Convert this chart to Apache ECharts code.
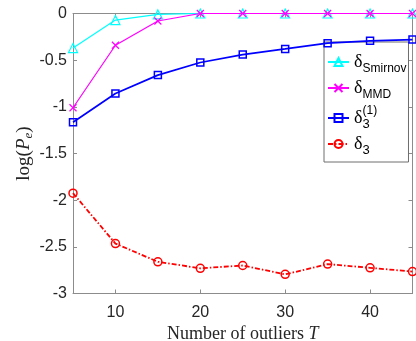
<!DOCTYPE html>
<html>
<head>
<meta charset="utf-8">
<script src="https://cdn.jsdelivr.net/npm/echarts@6/dist/echarts.min.js"></script>
<style>html,body{margin:0;padding:0;background:#fff}#c{width:416px;height:341px}</style>
</head>
<body>
<div id="c"></div>
<script>
var T = [5, 10, 15, 20, 25, 30, 35, 40, 45];
var xTicks = [10, 20, 30, 40];
var smirnov = [-0.37, -0.07, -0.01, 0, 0, 0, 0, 0, 0];
var mmd = [-1.01, -0.34, -0.08, 0, 0, 0, 0, 0, 0];
var delta3one = [-1.165, -0.857, -0.66, -0.525, -0.44, -0.38, -0.318, -0.293, -0.279];
var delta3 = [-1.925, -2.465, -2.66, -2.73, -2.70, -2.795, -2.685, -2.725, -2.765];

function pairs(ys){ return T.map(function(t,i){ return [t, ys[i]]; }); }

var axisGrey = '#8c8c8c';
var labelColor = '#262626';
var xPath = 'path://M0,0L10,10M10,0L0,10';

var chart = echarts.init(document.getElementById('c'), null, {renderer:'canvas'});
var legendRich = {
  d: {fontFamily: 'Liberation Serif', fontSize: 18, color: '#000', lineHeight: 26, verticalAlign: 'middle'},
  sub: {fontFamily: 'Liberation Sans', fontSize: 12, color: '#000', verticalAlign: 'bottom', lineHeight: 12},
  sub3: {fontFamily: 'Liberation Sans', fontSize: 13, color: '#000', verticalAlign: 'bottom', lineHeight: 15},
  sub0: {fontFamily: 'Liberation Sans', fontSize: 13, color: '#000', verticalAlign: 'bottom', lineHeight: 13, width: 0},
  sup: {fontFamily: 'Liberation Sans', fontSize: 12, color: '#000', verticalAlign: 'top', lineHeight: 12}
};
var names = ['Smirnov', 'MMD', 'd31', 'd3'];
var option = {
  animation: false,
  backgroundColor: '#fff',
  grid: {left: 73, right: 3.5, top: 13.5, bottom: 47.5, show: false, containLabel: false, outerBoundsMode: 'none'},
  legend: {
    orient: 'vertical',
    left: 324, top: 42,
    padding: [11, 2, 5, 3],
    itemGap: 4,
    itemWidth: 21, itemHeight: 10,
    borderColor: '#6e6e6e', borderWidth: 1, borderRadius: 0,
    backgroundColor: '#fff',
    data: names,
    formatter: function(n){
      if (n === 'Smirnov') return '{d|δ}{sub|Smirnov}';
      if (n === 'MMD') return '{d|δ}{sub|MMD}';
      if (n === 'd31') return '{d|δ}{sub0|3}{sup|(1)}';
      return '{d|δ}{sub3|3}';
    },
    textStyle: {rich: legendRich, padding: [0,0,0,0]}
  },
  xAxis: [{
    type: 'value', min: 5, max: 45, position: 'bottom',
    name: '{n|Number of outliers }{i|T}', nameLocation: 'middle', nameGap: 29,
    nameTextStyle: {rich: {
      n: {fontFamily: 'Liberation Serif', fontSize: 18, color: labelColor},
      i: {fontFamily: 'Liberation Serif', fontSize: 18, fontStyle: 'italic', color: labelColor}
    }},
    axisLine: {show: true, onZero: false, lineStyle: {color: axisGrey, width: 1}},
    axisTick: {show: true, inside: true, length: 4, customValues: xTicks, lineStyle: {color: axisGrey}},
    axisLabel: {customValues: xTicks, color: labelColor, fontFamily: 'Liberation Sans', fontSize: 16, margin: 11},
    splitLine: {show: false}
  }, {
    type: 'value', min: 5, max: 45, position: 'top',
    axisLine: {show: true, onZero: false, lineStyle: {color: axisGrey, width: 1}},
    axisTick: {show: true, inside: true, length: 4, customValues: xTicks, lineStyle: {color: axisGrey}},
    axisLabel: {show: false, customValues: xTicks},
    splitLine: {show: false}
  }],
  yAxis: [{
    type: 'value', min: -3, max: 0, interval: 0.5, position: 'left',
    name: '{n|log(}{i|P}{s|e}{n|)}', nameLocation: 'middle', nameGap: 38, nameRotate: 90,
    nameMoveOverlap: false,
    nameTextStyle: {rich: {
      n: {fontFamily: 'Liberation Serif', fontSize: 19, color: labelColor, lineHeight: 22},
      i: {fontFamily: 'Liberation Serif', fontSize: 19, fontStyle: 'italic', color: labelColor, lineHeight: 22},
      s: {fontFamily: 'Liberation Serif', fontSize: 13, fontStyle: 'italic', color: labelColor, verticalAlign: 'bottom', lineHeight: 12}
    }},
    axisLine: {show: true, onZero: false, lineStyle: {color: axisGrey, width: 1}},
    axisTick: {show: true, inside: true, length: 4, lineStyle: {color: axisGrey}},
    axisLabel: {color: labelColor, fontFamily: 'Liberation Sans', fontSize: 16, margin: 6},
    splitLine: {show: false}
  }, {
    type: 'value', min: -3, max: 0, interval: 0.5, position: 'right',
    axisLine: {show: true, onZero: false, lineStyle: {color: axisGrey, width: 1}},
    axisTick: {show: true, inside: true, length: 4, lineStyle: {color: axisGrey}},
    axisLabel: {show: false},
    splitLine: {show: false}
  }],
  series: [
    {name: 'Smirnov', type: 'line', data: pairs(smirnov), symbol: 'triangle', symbolSize: 9,
      lineStyle: {color: '#00ffff', width: 1.2}, itemStyle: {color: 'rgba(255,255,255,0)', borderColor: '#00ffff', borderWidth: 1.2}, z: 2},
    {name: 'MMD', type: 'line', data: pairs(mmd), symbol: xPath, symbolSize: 7,
      lineStyle: {color: '#ff00ff', width: 1.2}, itemStyle: {color: 'rgba(255,255,255,0)', borderColor: '#ff00ff', borderWidth: 1.2}, z: 3},
    {name: 'd31', type: 'line', data: pairs(delta3one), symbol: 'rect', symbolSize: 7,
      lineStyle: {color: '#0000ff', width: 1.7}, itemStyle: {color: 'rgba(255,255,255,0)', borderColor: '#0000ff', borderWidth: 1.5}, z: 4},
    {name: 'd3', type: 'line', data: pairs(delta3), symbol: 'circle', symbolSize: 8,
      lineStyle: {color: '#ff0000', width: 1.8, type: [5, 2, 1.5, 2]}, itemStyle: {color: 'rgba(255,255,255,0)', borderColor: '#ff0000', borderWidth: 1.5}, z: 5}
  ]
};
chart.setOption(option);
</script>
</body>
</html>
